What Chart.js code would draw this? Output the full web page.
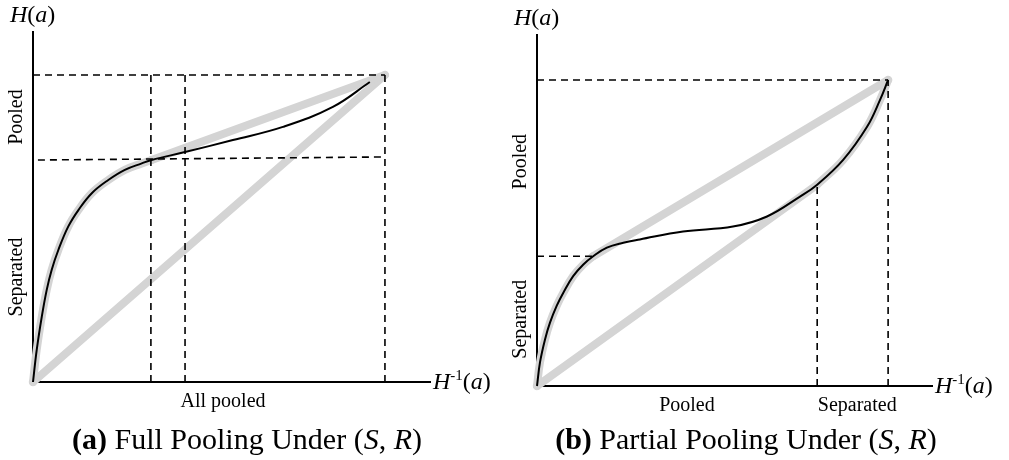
<!DOCTYPE html>
<html>
<head>
<meta charset="utf-8">
<script src="https://cdn.jsdelivr.net/npm/chart.js@4.4.1/dist/chart.umd.min.js"></script>
<style>
  html, body { margin: 0; padding: 0; background: #fff; }
  body { width: 1009px; height: 460px; position: relative; overflow: hidden; }
  .panel { position: absolute; top: 0; height: 460px; }
  #left { left: 0; width: 500px; }
  #right { left: 500px; width: 509px; }
</style>
</head>
<body>
<div class="panel" id="left"><canvas id="chartA" width="500" height="460"></canvas></div>
<div class="panel" id="right"><canvas id="chartB" width="509" height="460"></canvas></div>
<script>
// (a) full pooling, [H^-1(a), H(a)]
const curveA = [[0, 0], [0.0105, 0.104], [0.025, 0.213], [0.039, 0.300], [0.053, 0.365], [0.072, 0.430],
  [0.100, 0.506], [0.129, 0.560], [0.167, 0.615], [0.214, 0.658], [0.261, 0.691], [0.309, 0.712],
  [0.337, 0.723], [0.432, 0.749], [0.568, 0.788], [0.710, 0.831], [0.852, 0.896], [0.957, 0.977]];
const tangentA = 0.337;          // where the grey hull leaves the curve
const endPoint = [1, 1];
const diagonal = [[0, 0], [1, 1]];
const guidesA = [
  [[0, 1], [1, 1]],
  [[0.014, 0.723], [1, 0.733]],
  [[0.335, 0], [0.335, 1]],
  [[0.432, 0], [0.432, 1]],
  [[1, 0], [1, 1]]
];

// (b) partial pooling
const curveB = [[0, 0], [0.0085, 0.077], [0.023, 0.153], [0.037, 0.207], [0.056, 0.262], [0.075, 0.305],
  [0.103, 0.359], [0.132, 0.397], [0.160, 0.424], [0.199, 0.452], [0.246, 0.468], [0.293, 0.479],
  [0.416, 0.505], [0.558, 0.521], [0.655, 0.554], [0.749, 0.619], [0.798, 0.658], [0.872, 0.739],
  [0.940, 0.847], [0.977, 0.935], [1, 1]];
const upperTangentB = 0.160;
const lowerTangentB = 0.798;
const guidesB = [
  [[0, 1], [1, 1]],
  [[0, 0.424], [0.160, 0.424]],
  [[0.798, 0], [0.798, 0.658]],
  [[1, 0], [1, 1]]
];

const SERIF = '"Liberation Serif", "DejaVu Serif", serif';

function pts(list) {
  return list.map(([x, y]) => ({ x: x, y: y }));
}
function grey(list, smooth) {
  return { data: pts(list), showLine: true, pointRadius: 0, borderColor: '#d4d4d4', borderWidth: 8,
    borderCapStyle: 'round', borderJoinStyle: 'round', clip: false, order: 3,
    tension: smooth ? 0.4 : 0 };
}
function curve(list) {
  return { data: pts(list), showLine: true, pointRadius: 0, borderColor: '#000', borderWidth: 2,
    tension: 0.4, clip: false, order: 1 };
}
function dashed(list) {
  return { data: pts(list), showLine: true, pointRadius: 0, borderColor: '#000', borderWidth: 1.6,
    borderDash: [7, 5], tension: 0, clip: false, order: 2 };
}

// draws a run of differently styled pieces of text
function drawRuns(ctx, runs, x, y, align) {
  ctx.textAlign = 'left';
  let w = 0;
  runs.forEach(r => { ctx.font = r.f; w += ctx.measureText(r.t).width; });
  let cx = align === 'center' ? x - w / 2 : x;
  runs.forEach(r => {
    ctx.font = r.f;
    ctx.fillText(r.t, cx, y - (r.up || 0));
    cx += ctx.measureText(r.t).width;
  });
}

function labelsPlugin(cfg) {
  return {
    id: 'labels',
    afterDraw(chart) {
      const { ctx, chartArea: a, scales } = chart;
      ctx.save();
      ctx.fillStyle = '#000';
      ctx.textBaseline = 'alphabetic';
      const it = 'italic 24px ' + SERIF, up = '24px ' + SERIF;
      drawRuns(ctx, [{ t: 'H', f: it }, { t: '(', f: up }, { t: 'a', f: it }, { t: ')', f: up }],
        a.left - 23, a.top - 10, 'left');
      drawRuns(ctx, [{ t: 'H', f: it }, { t: '-1', f: '15px ' + SERIF, up: 9 }, { t: '(', f: up },
        { t: 'a', f: it }, { t: ')', f: up }], a.right + 3, a.bottom + 7, 'left');
      ctx.font = '20px ' + SERIF;
      ctx.textAlign = 'center';
      cfg.side.forEach(([text, v]) => {
        ctx.save();
        ctx.translate(a.left - 11, scales.y.getPixelForValue(v));
        ctx.rotate(-Math.PI / 2);
        ctx.fillText(text, 0, 0);
        ctx.restore();
      });
      cfg.bottom.forEach(([text, v]) => {
        ctx.fillText(text, scales.x.getPixelForValue(v), a.bottom + 25);
      });
      const cf = '30px ' + SERIF, ci = 'italic 30px ' + SERIF;
      drawRuns(ctx, [{ t: cfg.tag, f: 'bold 30px ' + SERIF }, { t: cfg.caption + ' (', f: cf },
        { t: 'S', f: ci }, { t: ', ', f: cf }, { t: 'R', f: ci }, { t: ')', f: cf }],
        cfg.captionX, 449, 'center');
      ctx.restore();
    }
  };
}

function makeChart(id, datasets, xMax, yMax, pad, labels) {
  const axis = (max) => ({
    type: 'linear', min: 0, max: max,
    ticks: { display: false },
    grid: { display: false, drawTicks: false },
    border: { display: true, color: '#000', width: 2 }
  });
  return new Chart(document.getElementById(id).getContext('2d'), {
    type: 'scatter',
    data: { datasets: datasets },
    options: {
      responsive: false,
      animation: false,
      layout: { padding: pad },
      scales: { x: axis(xMax), y: axis(yMax) },
      plugins: { legend: { display: false }, tooltip: { enabled: false } }
    },
    plugins: [labelsPlugin(labels)]
  });
}

// panel (a)
const upperA = curveA.filter(p => p[0] <= tangentA);
makeChart('chartA', [
  curve(curveA),
  ...guidesA.map(dashed),
  grey(upperA, true),
  grey([upperA[upperA.length - 1], endPoint], false),
  grey(diagonal, false)
], 1.128, 1.14, { left: 33, top: 32, right: 70, bottom: 78 }, {
  side: [['Pooled', 0.863], ['Separated', 0.342]],
  bottom: [['All pooled', 0.54]],
  tag: '(a)', caption: ' Full Pooling Under', captionX: 247
});

// panel (b)
const upperB = curveB.filter(p => p[0] <= upperTangentB);
const lowerB = curveB.filter(p => p[0] >= lowerTangentB);
makeChart('chartB', [
  curve(curveB),
  ...guidesB.map(dashed),
  grey(upperB, true),
  grey([upperB[upperB.length - 1], endPoint], false),
  grey([[0, 0], lowerB[0]], false),
  grey(lowerB, true)
], 1.125, 1.147, { left: 37, top: 35, right: 77, bottom: 74 }, {
  side: [['Pooled', 0.733], ['Separated', 0.218]],
  bottom: [['Pooled', 0.427], ['Separated', 0.912]],
  tag: '(b)', caption: ' Partial Pooling Under', captionX: 246
});
</script>
</body>
</html>
